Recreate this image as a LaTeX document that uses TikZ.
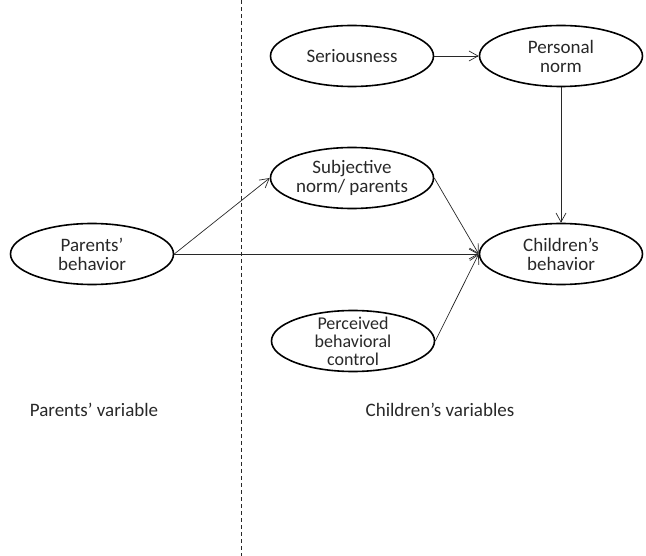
\documentclass[tikz,border=0pt]{standalone}
\usepackage{fontspec}
\setmainfont{Carlito}
\usetikzlibrary{arrows.meta,positioning,shapes.geometric}
\definecolor{inkgray}{RGB}{40,40,40}

\begin{document}
\begin{tikzpicture}[x=1pt, y=-1pt,
    var/.style={ellipse, draw=black, line width=1.6pt, minimum width=163pt,
                minimum height=61pt, inner sep=0pt, align=center,
                font=\fontsize{19}{19}\selectfont, text=inkgray},
    arr/.style={-{Straight Barb[length=9pt,width=10pt]}, line width=0.7pt, inkgray},
    side/.style={font=\fontsize{19}{19}\selectfont, text=inkgray}]
\useasboundingbox (0,0) rectangle (646,556);
% divider between the two groups
\coordinate (top) at (241,0);
\coordinate (bot) at (241,556);
\draw[inkgray, line width=0.7pt, dash pattern=on 4pt off 3pt] (top) -- (bot);
\node[var] (ser) at (352,56) {Seriousness};
\node[var] (pnorm) at (561,56) {Personal\\norm};
\node[var] (subj) at (352,178) {Subjective\\norm/ parents};
\node[var] (par) at (92,254) {Parents'\\behavior};
\node[var] (chb) at (561,254) {Children's\\behavior};
\node[var, font=\fontsize{18}{18}\selectfont, inner ysep=-12pt] (pbc) at (353,341) {Perceived\\behavioral\\control};
\node[side] (plab) at (94,410) {Parents' variable};
\node[side] (clab) at (440,410) {Children's variables};
\draw[arr] (ser) -- (pnorm);
\draw[arr] (pnorm) -- (chb);
\draw[arr] (par.east) -- (subj.west);
\draw[arr] (par.east) -- (chb.west);
\draw[arr] (subj.east) -- (chb.west);
\draw[arr] (pbc.east) -- (chb.west);
\end{tikzpicture}
\end{document}
